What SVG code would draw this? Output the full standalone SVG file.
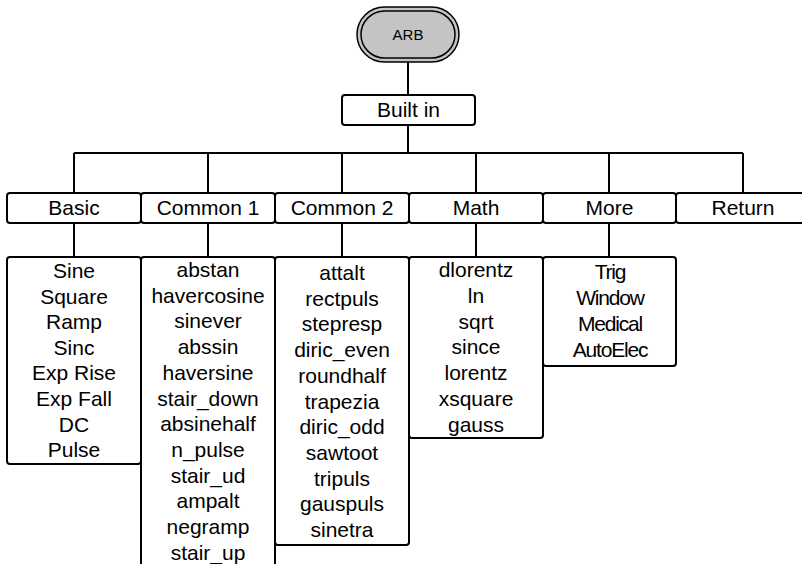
<svg xmlns="http://www.w3.org/2000/svg" width="802" height="564" viewBox="0 0 802 564">
<style>
.box{fill:#fff;stroke:#000;stroke-width:2}
.cap{fill:#c4c4c4;stroke:#000;stroke-width:1.5}
.ln{stroke:#000;stroke-width:2;fill:none}
text{font-family:"Liberation Sans",Arial,sans-serif;font-size:21px;fill:#000;text-anchor:middle}
.sm{font-size:15px}
.cond{letter-spacing:-1.2px}
</style>
<rect width="802" height="564" fill="#fff"/>
<g id="connectors">
<line class="ln" x1="408" y1="62" x2="408" y2="95"/>
<line class="ln" x1="408" y1="125" x2="408" y2="153"/>
<line class="ln" x1="74" y1="153" x2="743" y2="153"/>
<line class="ln" x1="74" y1="153" x2="74" y2="193"/>
<line class="ln" x1="208" y1="153" x2="208" y2="193"/>
<line class="ln" x1="342" y1="153" x2="342" y2="193"/>
<line class="ln" x1="476" y1="153" x2="476" y2="193"/>
<line class="ln" x1="609" y1="153" x2="609" y2="193"/>
<line class="ln" x1="743" y1="153" x2="743" y2="193"/>
<line class="ln" x1="74" y1="223" x2="74" y2="257"/>
<line class="ln" x1="208" y1="223" x2="208" y2="257"/>
<line class="ln" x1="342" y1="223" x2="342" y2="257"/>
<line class="ln" x1="476" y1="223" x2="476" y2="257"/>
<line class="ln" x1="609" y1="223" x2="609" y2="257"/>
</g>
<g id="arb">
<rect class="cap" x="357" y="7" width="102" height="55" rx="27.5"/>
<rect class="cap" x="361" y="11" width="94" height="47" rx="23.5"/>
<text class="sm" x="408" y="39.5">ARB</text>
</g>
<g id="builtin">
<rect class="box" x="342" y="95" width="133" height="30" rx="3"/>
<text x="408.5" y="117">Built in</text>
</g>
<g id="tab-basic"><rect class="box" x="7" y="193" width="134" height="30" rx="3"/><text x="74" y="215">Basic</text></g>
<g id="tab-common1"><rect class="box" x="141" y="193" width="134" height="30" rx="3"/><text x="208" y="215">Common 1</text></g>
<g id="tab-common2"><rect class="box" x="275" y="193" width="134" height="30" rx="3"/><text x="342" y="215">Common 2</text></g>
<g id="tab-math"><rect class="box" x="409" y="193" width="134" height="30" rx="3"/><text x="476" y="215">Math</text></g>
<g id="tab-more"><rect class="box" x="543" y="193" width="133" height="30" rx="3"/><text x="609.5" y="215">More</text></g>
<g id="tab-return"><rect class="box" x="676" y="193" width="134" height="30" rx="3"/><text x="743" y="215">Return</text></g>
<g id="list-basic">
<rect class="box" x="7" y="257" width="134" height="207" rx="3"/>
<text x="74" y="278">Sine</text>
<text x="74" y="303.6">Square</text>
<text x="74" y="329.2">Ramp</text>
<text x="74" y="354.8">Sinc</text>
<text x="74" y="380.4">Exp Rise</text>
<text x="74" y="406">Exp Fall</text>
<text x="74" y="431.6">DC</text>
<text x="74" y="457.2">Pulse</text>
</g>
<g id="list-common1">
<rect class="box" x="141" y="257" width="134" height="320" rx="3"/>
<text x="208" y="277">abstan</text>
<text x="208" y="302.7">havercosine</text>
<text x="208" y="328.4">sinever</text>
<text x="208" y="354.1">abssin</text>
<text x="208" y="379.8">haversine</text>
<text x="208" y="405.5">stair_down</text>
<text x="208" y="431.2">absinehalf</text>
<text x="208" y="456.9">n_pulse</text>
<text x="208" y="482.6">stair_ud</text>
<text x="208" y="508.3">ampalt</text>
<text x="208" y="534">negramp</text>
<text x="208" y="559.7">stair_up</text>
</g>
<g id="list-common2">
<rect class="box" x="275" y="257" width="134" height="288" rx="3"/>
<text x="342" y="280">attalt</text>
<text x="342" y="305.7">rectpuls</text>
<text x="342" y="331.4">stepresp</text>
<text x="342" y="357.1">diric_even</text>
<text x="342" y="382.8">roundhalf</text>
<text x="342" y="408.5">trapezia</text>
<text x="342" y="434.2">diric_odd</text>
<text x="342" y="459.9">sawtoot</text>
<text x="342" y="485.6">tripuls</text>
<text x="342" y="511.3">gauspuls</text>
<text x="342" y="537">sinetra</text>
</g>
<g id="list-math">
<rect class="box" x="409" y="257" width="134" height="181" rx="3"/>
<text x="476" y="277.3">dlorentz</text>
<text x="476" y="303">ln</text>
<text x="476" y="328.7">sqrt</text>
<text x="476" y="354.4">since</text>
<text x="476" y="380.1">lorentz</text>
<text x="476" y="405.8">xsquare</text>
<text x="476" y="431.5">gauss</text>
</g>
<g id="list-more">
<rect class="box" x="543" y="257" width="133" height="109" rx="3"/>
<text class="cond" x="610" y="279.3">Trig</text>
<text class="cond" x="610" y="305.1">Window</text>
<text class="cond" x="610" y="330.9">Medical</text>
<text class="cond" x="610" y="356.7">AutoElec</text>
</g>
</svg>
